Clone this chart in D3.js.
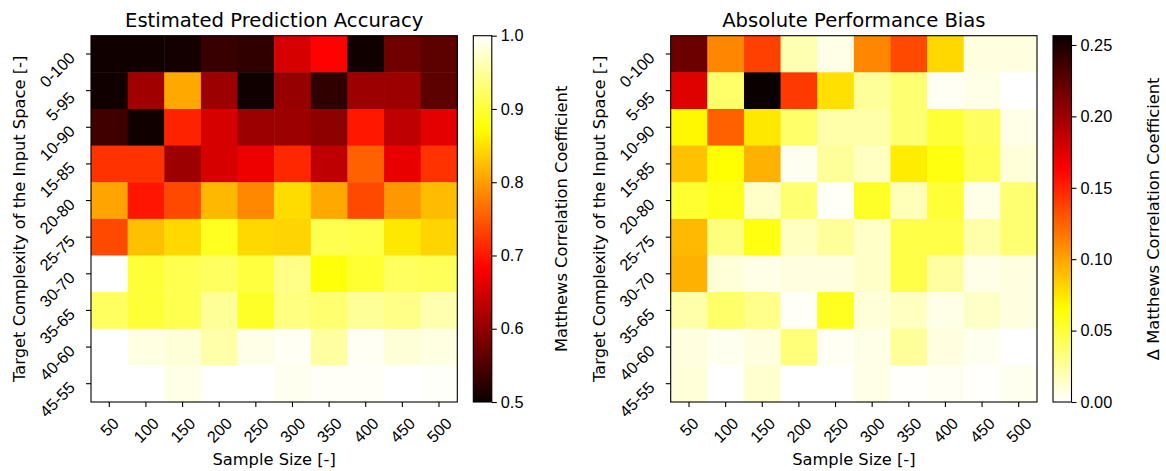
<!DOCTYPE html>
<html>
<head>
<meta charset="utf-8">
<script src="https://cdn.jsdelivr.net/npm/d3@7"></script>
<style>
  html, body { margin: 0; padding: 0; background: #fff; }
  svg { display: block; font-family: "DejaVu Sans", sans-serif; }
</style>
</head>
<body>
<svg id="chart" width="1166" height="471"></svg>
<script>
// Sample sizes along x, target complexity ranges along y (top to bottom)
const sampleSizes = [50, 100, 150, 200, 250, 300, 350, 400, 450, 500];
const complexityLabels = ["0-100", "5-95", "10-90", "15-85", "20-80", "25-75", "30-70", "35-65", "40-60", "45-55"];

// Estimated prediction accuracy (Matthews correlation coefficient)
const accuracy = [
  [0.505, 0.505, 0.508, 0.535, 0.528, 0.653, 0.683, 0.505, 0.576, 0.561],
  [0.505, 0.612, 0.808, 0.609, 0.505, 0.605, 0.528, 0.609, 0.609, 0.561],
  [0.540, 0.505, 0.708, 0.653, 0.609, 0.609, 0.597, 0.700, 0.635, 0.662],
  [0.720, 0.720, 0.609, 0.653, 0.668, 0.712, 0.635, 0.754, 0.665, 0.720],
  [0.805, 0.698, 0.737, 0.820, 0.784, 0.847, 0.808, 0.737, 0.796, 0.823],
  [0.737, 0.826, 0.844, 0.889, 0.844, 0.841, 0.913, 0.910, 0.856, 0.841],
  [1.000, 0.901, 0.913, 0.921, 0.905, 0.940, 0.878, 0.898, 0.921, 0.918],
  [0.921, 0.901, 0.913, 0.948, 0.893, 0.937, 0.929, 0.948, 0.940, 0.960],
  [1.000, 0.985, 0.980, 0.957, 0.988, 0.994, 0.953, 0.994, 0.980, 0.985],
  [1.000, 1.000, 0.988, 1.000, 1.000, 0.992, 0.996, 0.996, 1.000, 0.997]
];

// Absolute performance bias (delta MCC)
const bias = [
  [0.219, 0.111, 0.138, 0.020, 0.006, 0.111, 0.135, 0.080, 0.008, 0.008],
  [0.175, 0.038, 0.2565, 0.141, 0.077, 0.026, 0.036, 0.003, 0.006, 0.000],
  [0.068, 0.126, 0.074, 0.038, 0.022, 0.022, 0.036, 0.051, 0.040, 0.006],
  [0.089, 0.065, 0.095, 0.004, 0.026, 0.016, 0.072, 0.061, 0.043, 0.010],
  [0.053, 0.059, 0.014, 0.036, 0.002, 0.055, 0.018, 0.051, 0.006, 0.036],
  [0.092, 0.033, 0.061, 0.016, 0.026, 0.014, 0.047, 0.047, 0.022, 0.036],
  [0.095, 0.010, 0.006, 0.008, 0.008, 0.014, 0.047, 0.024, 0.006, 0.008],
  [0.022, 0.038, 0.030, 0.002, 0.057, 0.010, 0.016, 0.006, 0.014, 0.008],
  [0.008, 0.004, 0.008, 0.034, 0.003, 0.006, 0.026, 0.008, 0.004, 0.000],
  [0.010, 0.000, 0.012, 0.000, 0.000, 0.006, 0.001, 0.003, 0.001, 0.004]
];

const accuracyTicks = [0.5, 0.6, 0.7, 0.8, 0.9, 1.0];
const biasTicks = [0.00, 0.05, 0.10, 0.15, 0.20, 0.25];

// "hot" colormap: black -> red -> yellow -> white
const hotR = d3.scaleLinear().domain([0, 0.365079, 1]).range([0.0416, 1, 1]).clamp(true);
const hotG = d3.scaleLinear().domain([0, 0.365079, 0.746032, 1]).range([0, 0, 1, 1]).clamp(true);
const hotB = d3.scaleLinear().domain([0, 0.746032, 1]).range([0, 0, 1]).clamp(true);
function hot(t) {
  return d3.rgb(Math.round(hotR(t) * 255), Math.round(hotG(t) * 255), Math.round(hotB(t) * 255)).toString();
}

const svg = d3.select("#chart");
const FONT = 16.3;
const TITLE_FONT = 19.6;
const TICK = 5;

const panels = [
  {
    x0: 91, title: "Estimated Prediction Accuracy", values: accuracy,
    domain: [0.5, 1.0], reversed: false, ticks: accuracyTicks, fmt: d3.format(".1f"),
    cbX: 473.3, cbLabel: "Matthews Correlation Coefficient", cbLabelX: 567
  },
  {
    x0: 670.7, title: "Absolute Performance Bias", values: bias,
    domain: [0, d3.max(bias.flat())], reversed: true, ticks: biasTicks, fmt: d3.format(".2f"),
    cbX: 1053, cbLabel: "\u0394 Matthews Correlation Coefficient", cbLabelX: 1159
  }
];

const plotTop = 35.7, plotSize = 366.3, cbW = 18.5;

panels.forEach((p, pi) => {
  const g = svg.append("g");
  const x = d3.scaleBand().domain(sampleSizes).range([p.x0, p.x0 + plotSize]);
  const y = d3.scaleBand().domain(complexityLabels).range([plotTop, plotTop + plotSize]);
  const norm = d3.scaleLinear().domain(p.domain).range(p.reversed ? [1, 0] : [0, 1]).clamp(true);
  const color = v => hot(norm(v));

  // heatmap cells
  const cells = [];
  p.values.forEach((row, ri) => row.forEach((v, ci) => cells.push({ r: complexityLabels[ri], c: sampleSizes[ci], v })));
  g.selectAll("rect.cell").data(cells).join("rect")
    .attr("class", "cell")
    .attr("x", d => x(d.c))
    .attr("y", d => y(d.r))
    .attr("width", x.bandwidth() + 0.5)
    .attr("height", y.bandwidth() + 0.5)
    .attr("fill", d => color(d.v));

  // frame
  g.append("rect").attr("x", p.x0).attr("y", plotTop).attr("width", plotSize).attr("height", plotSize)
    .attr("fill", "none").attr("stroke", "#000").attr("stroke-width", 1.1);

  // x axis
  const xAxis = g.append("g").attr("transform", `translate(0,${plotTop + plotSize})`)
    .call(d3.axisBottom(x).tickSize(TICK).tickSizeOuter(0));
  xAxis.select(".domain").remove();
  xAxis.selectAll(".tick line").attr("stroke", "#000").attr("stroke-width", 1.1);
  xAxis.selectAll(".tick text")
    .attr("font-size", FONT).attr("fill", "#000")
    .attr("text-anchor", "middle").attr("dominant-baseline", "central")
    .attr("y", null).attr("dy", null)
    .each(function () {
      const L = this.getComputedTextLength();
      const half = 0.7071 * (L + 12) / 2;
      d3.select(this).attr("transform", `translate(0,${416 - (plotTop + plotSize) + half}) rotate(-45)`);
    });

  // y axis
  const yAxis = g.append("g").attr("transform", `translate(${p.x0},0)`)
    .call(d3.axisLeft(y).tickSize(TICK).tickSizeOuter(0));
  yAxis.select(".domain").remove();
  yAxis.selectAll(".tick line").attr("stroke", "#000").attr("stroke-width", 1.1);
  yAxis.selectAll(".tick text")
    .attr("font-size", FONT).attr("fill", "#000")
    .attr("text-anchor", "middle").attr("dominant-baseline", "central")
    .attr("x", null).attr("dy", null)
    .each(function () {
      const L = this.getComputedTextLength();
      const half = 0.7071 * (L + 12) / 2;
      d3.select(this).attr("transform", `translate(${-15 - half},15.5) rotate(-45)`);
    });

  // axis labels and title
  g.append("text").attr("x", p.x0 + plotSize / 2).attr("y", 465)
    .attr("text-anchor", "middle").attr("font-size", FONT).text("Sample Size [-]");
  g.append("text")
    .attr("transform", `translate(${p.x0 - 66},${plotTop + plotSize / 2}) rotate(-90)`)
    .attr("text-anchor", "middle").attr("font-size", FONT)
    .text("Target Complexity of the Input Space [-]");
  g.append("text").attr("x", p.x0 + plotSize / 2).attr("y", 26.5)
    .attr("text-anchor", "middle").attr("font-size", TITLE_FONT).text(p.title);

  // colorbar
  const gradId = "grad" + pi;
  const grad = svg.append("defs").append("linearGradient").attr("id", gradId)
    .attr("x1", 0).attr("y1", 1).attr("x2", 0).attr("y2", 0);
  d3.range(0, 1.0001, 0.02).forEach(s => {
    grad.append("stop").attr("offset", s)
      .attr("stop-color", hot(p.reversed ? 1 - s : s));
  });
  g.append("rect").attr("x", p.cbX).attr("y", plotTop).attr("width", cbW).attr("height", plotSize)
    .attr("fill", `url(#${gradId})`).attr("stroke", "#000").attr("stroke-width", 1.1);

  const cbScale = d3.scaleLinear().domain(p.domain).range([plotTop + plotSize, plotTop]);
  const cbAxis = g.append("g").attr("transform", `translate(${p.cbX + cbW},0)`)
    .call(d3.axisRight(cbScale).tickValues(p.ticks).tickFormat(p.fmt).tickSize(TICK).tickPadding(4));
  cbAxis.select(".domain").remove();
  cbAxis.selectAll(".tick line").attr("stroke", "#000").attr("stroke-width", 1.1);
  cbAxis.selectAll(".tick text").attr("font-size", FONT).attr("fill", "#000");

  g.append("text")
    .attr("transform", `translate(${p.cbLabelX},${plotTop + plotSize / 2}) rotate(-90)`)
    .attr("text-anchor", "middle").attr("font-size", FONT).text(p.cbLabel);
});
</script>
</body>
</html>
